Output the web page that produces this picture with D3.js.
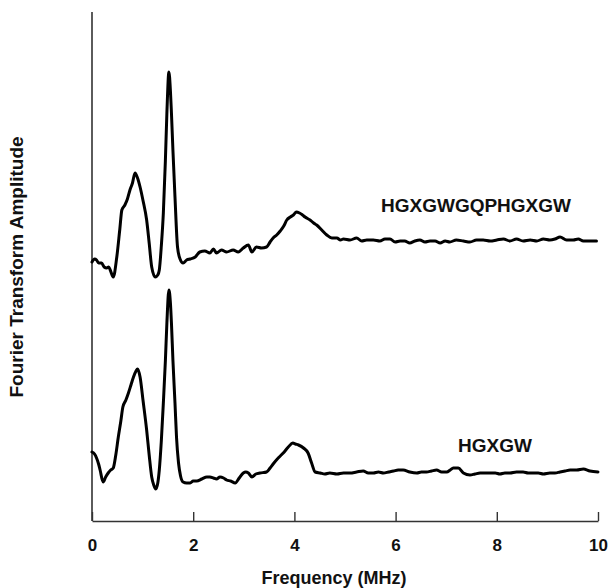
<!DOCTYPE html>
<html>
<head>
<meta charset="utf-8">
<script src="https://cdn.jsdelivr.net/npm/d3@7"></script>
<style>
  body { margin: 0; background: #fff; }
  svg text { font-family: 'Liberation Sans', Arial, Helvetica, sans-serif; font-weight: bold; fill: #111; }
</style>
</head>
<body>
<svg id="chart" width="611" height="588"></svg>
<script>
// Tick values on the frequency axis (MHz)
const xTicks = [0, 2, 4, 6, 8, 10]

// Series labels
const topLabel = 'HGXGWGQPHGXGW'
const bottomLabel = 'HGXGW'

// [frequency (MHz), amplitude (arb. units)]
const topSeries = [
  [0.00, 259], [0.05, 262], [0.09, 261], [0.13, 258], [0.19, 258], [0.24, 254], [0.29, 253], [0.33, 254],
  [0.36, 251], [0.42, 244], [0.49, 264], [0.55, 292], [0.59, 311], [0.65, 316], [0.70, 322], [0.75, 331],
  [0.80, 338], [0.85, 348], [0.90, 343], [0.95, 334], [1.01, 320], [1.08, 301], [1.13, 278], [1.18, 254],
  [1.25, 244], [1.30, 246], [1.33, 251], [1.37, 275], [1.41, 308], [1.45, 360], [1.48, 408], [1.52, 449],
  [1.55, 430], [1.57, 408], [1.60, 370], [1.64, 324], [1.69, 274], [1.74, 262], [1.80, 258], [1.87, 261],
  [1.94, 262], [2.04, 264], [2.13, 269], [2.23, 270], [2.33, 268], [2.40, 272], [2.46, 268], [2.56, 271],
  [2.66, 269], [2.79, 271], [2.89, 269], [2.99, 273], [3.09, 276], [3.16, 269], [3.25, 274], [3.35, 273],
  [3.45, 274], [3.52, 279], [3.58, 283], [3.65, 286], [3.72, 290], [3.79, 295], [3.85, 301], [3.92, 304],
  [3.98, 306], [4.04, 309], [4.10, 308], [4.16, 306], [4.21, 304], [4.31, 301], [4.38, 298], [4.44, 296],
  [4.54, 291], [4.64, 286], [4.74, 283], [4.84, 283], [4.91, 281], [4.97, 282], [5.10, 281], [5.23, 283],
  [5.33, 280], [5.43, 281], [5.56, 281], [5.69, 280], [5.79, 282], [5.89, 282], [5.99, 279], [6.09, 280],
  [6.18, 280], [6.28, 278], [6.38, 280], [6.48, 281], [6.58, 279], [6.68, 280], [6.78, 280], [6.88, 278],
  [6.98, 280], [7.07, 279], [7.20, 281], [7.34, 280], [7.47, 279], [7.60, 281], [7.73, 281], [7.87, 280],
  [8.00, 281], [8.13, 282], [8.26, 280], [8.39, 282], [8.52, 280], [8.66, 281], [8.79, 280], [8.92, 282],
  [9.05, 281], [9.15, 282], [9.25, 284], [9.38, 281], [9.51, 281], [9.61, 282], [9.71, 280], [9.84, 280],
  [9.97, 280]
]

const bottomSeries = [
  [0.00, 69], [0.05, 67], [0.09, 63], [0.13, 57], [0.16, 51], [0.22, 39], [0.27, 44], [0.32, 48],
  [0.37, 51], [0.42, 53], [0.47, 66], [0.52, 84], [0.57, 100], [0.61, 114], [0.67, 121], [0.72, 128],
  [0.77, 136], [0.82, 144], [0.87, 150], [0.90, 152], [0.95, 144], [1.01, 120], [1.08, 91], [1.13, 66],
  [1.18, 44], [1.22, 36], [1.26, 32], [1.30, 38], [1.33, 51], [1.37, 80], [1.41, 118], [1.45, 160],
  [1.48, 198], [1.52, 231], [1.55, 218], [1.57, 198], [1.60, 160], [1.64, 118], [1.67, 84], [1.71, 58],
  [1.75, 45], [1.80, 39], [1.87, 38], [1.94, 38], [2.00, 40], [2.07, 40], [2.17, 42], [2.27, 44],
  [2.33, 44], [2.40, 43], [2.46, 42], [2.53, 44], [2.60, 43], [2.66, 41], [2.74, 40], [2.83, 38],
  [2.91, 43], [2.99, 48], [3.04, 49], [3.09, 48], [3.16, 44], [3.24, 47], [3.32, 48], [3.45, 49],
  [3.52, 53], [3.58, 57], [3.68, 63], [3.78, 68], [3.88, 74], [3.97, 78], [4.02, 77], [4.08, 76],
  [4.18, 73], [4.27, 68], [4.34, 58], [4.41, 49], [4.51, 48], [4.60, 47], [4.70, 48], [4.84, 47],
  [4.97, 48], [5.10, 48], [5.23, 49], [5.36, 50], [5.46, 48], [5.56, 48], [5.66, 49], [5.76, 48],
  [5.86, 49], [5.96, 50], [6.05, 51], [6.15, 51], [6.28, 49], [6.42, 48], [6.51, 49], [6.61, 49],
  [6.71, 50], [6.81, 51], [6.91, 49], [7.01, 49], [7.08, 51], [7.14, 53], [7.24, 53], [7.34, 48],
  [7.47, 46], [7.57, 47], [7.67, 48], [7.77, 48], [7.87, 48], [7.97, 48], [8.06, 47], [8.16, 48],
  [8.26, 48], [8.39, 49], [8.52, 49], [8.62, 48], [8.72, 48], [8.82, 48], [8.92, 47], [9.05, 48],
  [9.15, 48], [9.25, 49], [9.35, 50], [9.45, 51], [9.58, 51], [9.71, 52], [9.84, 50], [10.00, 49]
]

const svg = d3.select('#chart')
const margin = { top: 12, right: 13, bottom: 67, left: 92 }
const width = +svg.attr('width')
const height = +svg.attr('height')

const x = d3.scaleLinear()
  .domain([0, 10])
  .range([margin.left, width - margin.right])

const y = d3.scaleLinear()
  .domain([0, 509])
  .range([height - margin.bottom, margin.top])

// Frequency axis, ticks pointing inward
const xAxis = svg.append('g')
  .attr('transform', `translate(0, ${height - margin.bottom})`)
  .call(d3.axisBottom(x)
    .tickValues(xTicks)
    .tickSizeInner(-9)
    .tickSizeOuter(0)
    .tickPadding(18)
    .tickFormat(d3.format('d')))

xAxis.select('.domain').attr('stroke', '#333').attr('stroke-width', 1.6)
xAxis.selectAll('.tick line').attr('stroke', '#333').attr('stroke-width', 1.4)
xAxis.selectAll('.tick text').attr('font-size', 17).attr('fill', '#111')
  .attr('font-family', "'Liberation Sans', Arial, sans-serif").attr('font-weight', 'bold')

// Amplitude axis: just the line, no ticks
svg.append('line')
  .attr('x1', x(0)).attr('x2', x(0))
  .attr('y1', y(0)).attr('y2', y(509))
  .attr('stroke', '#333')
  .attr('stroke-width', 1.6)

const line = d3.line()
  .x(d => x(d[0]))
  .y(d => y(d[1]))
  .curve(d3.curveMonotoneX)

svg.selectAll('path.spectrum')
  .data([topSeries, bottomSeries])
  .enter()
  .append('path')
  .attr('class', 'spectrum')
  .attr('d', line)
  .attr('fill', 'none')
  .attr('stroke', '#000')
  .attr('stroke-width', 3)
  .attr('stroke-linejoin', 'round')
  .attr('stroke-linecap', 'round')

// Series labels
svg.append('text')
  .attr('x', 381).attr('y', 212)
  .attr('font-size', 19)
  .text(topLabel)

svg.append('text')
  .attr('x', 458).attr('y', 452)
  .attr('font-size', 19)
  .text(bottomLabel)

// Axis titles
svg.append('text')
  .attr('x', 334).attr('y', 584)
  .attr('text-anchor', 'middle')
  .attr('font-size', 18)
  .text('Frequency (MHz)')

svg.append('text')
  .attr('transform', 'translate(23, 267) rotate(-90)')
  .attr('text-anchor', 'middle')
  .attr('font-size', 19)
  .text('Fourier Transform Amplitude')
</script>
</body>
</html>
